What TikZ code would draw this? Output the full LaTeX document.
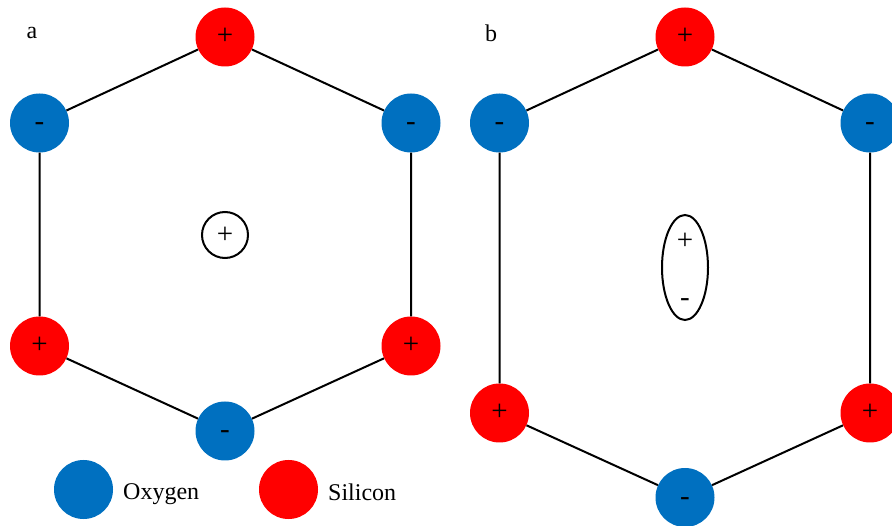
\documentclass[tikz,border=0pt]{standalone}
\usepackage{fontspec}
\setmainfont{Liberation Serif}
\usetikzlibrary{shapes.geometric}
\definecolor{oxy}{RGB}{0,112,192}
\definecolor{sil}{RGB}{255,0,0}
\begin{document}
\begin{tikzpicture}[x=1pt,y=-1pt,
  signfont/.style={font=\fontsize{29}{29}\selectfont, text height=15.5pt, text depth=0pt},
  atom/.style={circle, minimum size=59pt, inner sep=0pt, signfont},
  oxygen/.style={atom, fill=oxy},
  silicon/.style={atom, fill=sil},
  bond/.style={line width=2pt, black},
  charge/.style={draw, line width=2pt, inner sep=0pt},
  sign/.style={inner sep=0pt, signfont},
  panel/.style={inner sep=0pt, font=\fontsize{24}{24}\selectfont},
  legendtext/.style={anchor=west, inner sep=0pt, font=\fontsize{24}{24}\selectfont}
]
\useasboundingbox (0,0) rectangle (892,526);

% ---- panel a: symmetric ring ----
\node[panel] (la) at (32,33) {a};
\node[silicon] (a1) at (225,37) {+};
\node[oxygen]  (a2) at (411,123) {-};
\node[silicon] (a3) at (411,346) {+};
\node[oxygen]  (a4) at (225,431) {-};
\node[silicon] (a5) at (39.5,346) {+};
\node[oxygen]  (a6) at (39.5,123) {-};
\draw[bond] (a1) -- (a2) -- (a3) -- (a4) -- (a5) -- (a6) -- (a1);
\node[charge, circle, minimum size=46pt] (ac) at (225,235) {};
\node[sign] (acs) at (225,236) {+};

% ---- panel b: stretched ring ----
\node[panel] (lb) at (491,33) {b};
\node[silicon] (b1) at (685,37) {+};
\node[oxygen]  (b2) at (870,123) {-};
\node[silicon] (b3) at (870,413) {+};
\node[oxygen]  (b4) at (685,497.5) {-};
\node[silicon] (b5) at (499.5,413) {+};
\node[oxygen]  (b6) at (499.5,123) {-};
\draw[bond] (b1) -- (b2) -- (b3) -- (b4) -- (b5) -- (b6) -- (b1);
\node[charge, ellipse, minimum width=46pt, minimum height=105pt] (bc) at (685,267.5) {};
\node[sign] (bcp) at (685,241.5) {+};
\node[sign] (bcm) at (685,298.5) {-};

% ---- legend ----
\node[oxygen] (ko) at (83.5,489.5) {};
\node[legendtext] (kot) at (123,494) {Oxygen};
\node[silicon] (ks) at (288.5,489.5) {};
\node[legendtext] (kst) at (328,492) {Silicon};
\end{tikzpicture}
\end{document}
